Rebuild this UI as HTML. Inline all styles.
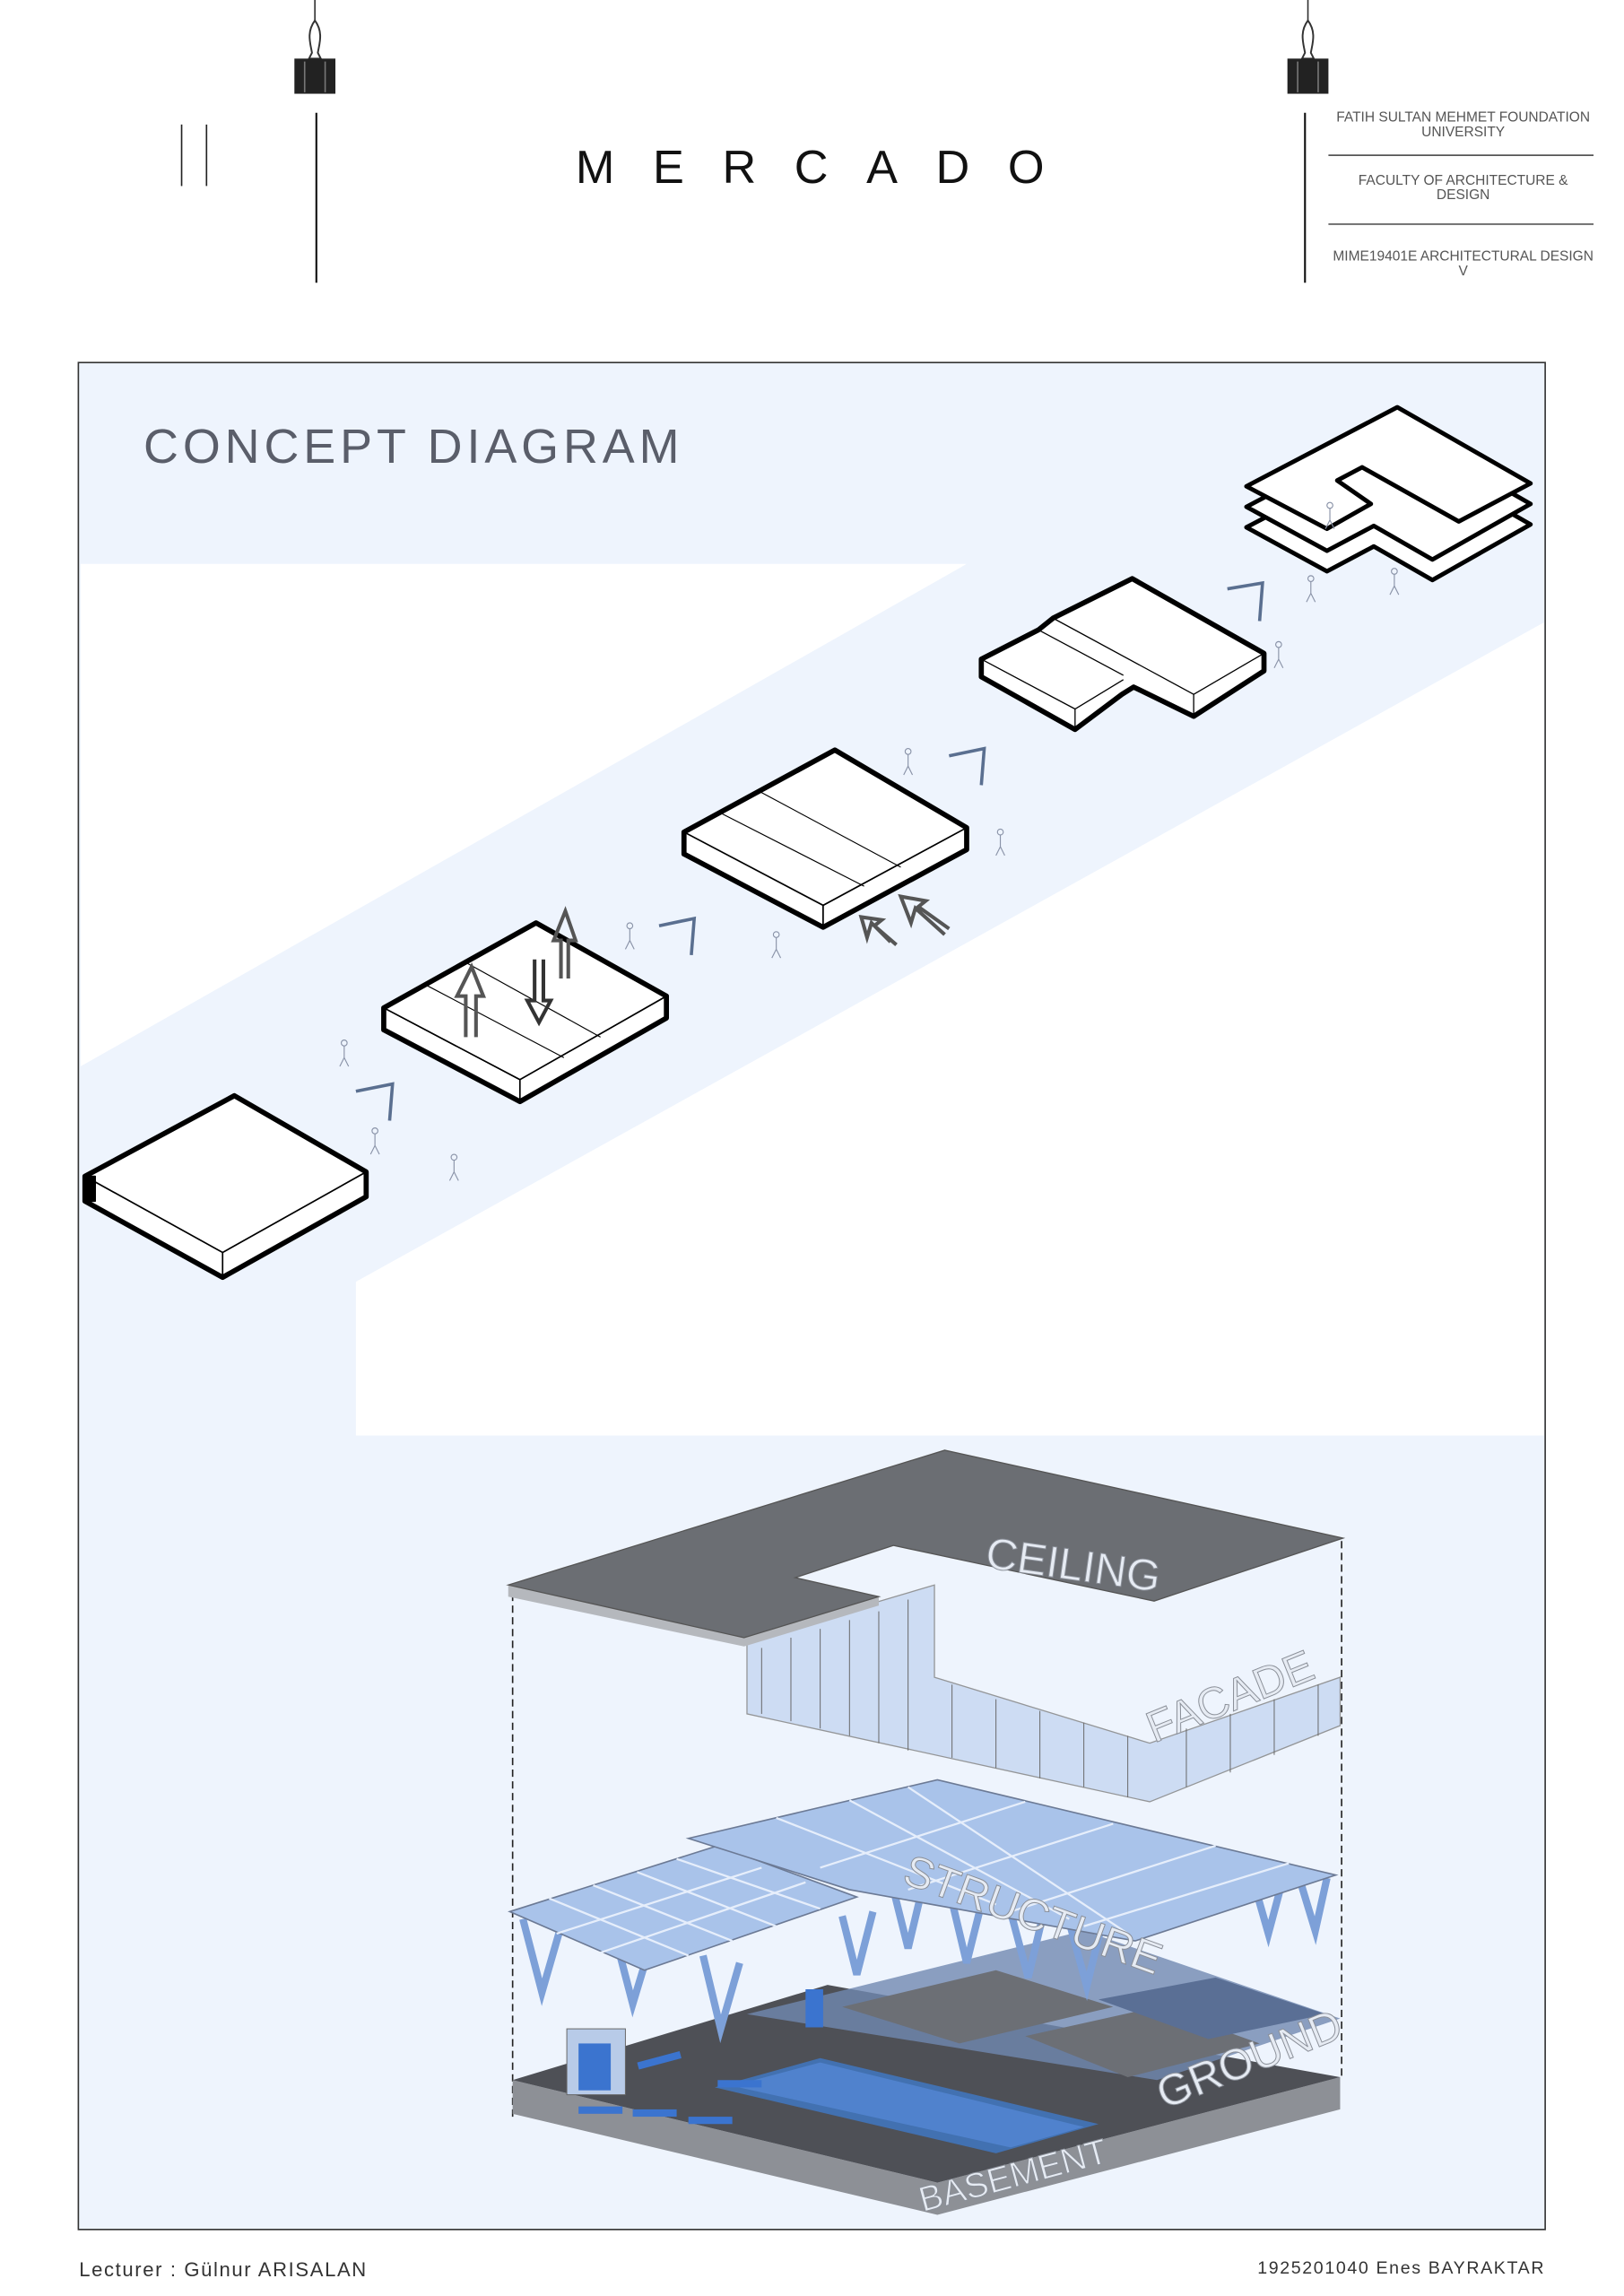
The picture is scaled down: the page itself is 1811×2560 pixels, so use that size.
<!DOCTYPE html>
<html><head><meta charset="utf-8"><style>
html,body{margin:0;padding:0;background:#fff;}
svg{display:block;}
text{font-family:"Liberation Sans",sans-serif;}
</style></head><body>
<svg width="1811" height="2560" viewBox="0 0 1108.8 1567.4" xmlns="http://www.w3.org/2000/svg">
<g>
<line x1="215" y1="0" x2="215" y2="14" stroke="#333" stroke-width="1"/>
<path d="M215,14 C209,22 212,30 213,36 L211,40 L219,40 L217,36 C218,30 221,22 215,14Z" fill="none" stroke="#333" stroke-width="1.2"/>
<rect x="201" y="40" width="28" height="24" fill="#222"/>
<line x1="208" y1="42" x2="208" y2="63" stroke="#777"/><line x1="222" y1="42" x2="222" y2="63" stroke="#777"/>
<line x1="893" y1="0" x2="893" y2="14" stroke="#333" stroke-width="1"/>
<path d="M893,14 C887,22 890,30 891,36 L889,40 L897,40 L895,36 C896,30 899,22 893,14Z" fill="none" stroke="#333" stroke-width="1.2"/>
<rect x="879" y="40" width="28" height="24" fill="#222"/>
<line x1="886" y1="42" x2="886" y2="63" stroke="#777"/><line x1="900" y1="42" x2="900" y2="63" stroke="#777"/>
</g>
<line x1="124" y1="85" x2="124" y2="127" stroke="#222" stroke-width="1"/>
<line x1="141" y1="85" x2="141" y2="127" stroke="#222" stroke-width="1"/>
<line x1="216" y1="77" x2="216" y2="193" stroke="#111" stroke-width="1.3"/>
<line x1="891" y1="77" x2="891" y2="193" stroke="#111" stroke-width="1.3"/>
<text x="393" y="125" font-size="32" fill="#111" textLength="320" lengthAdjust="spacing">MERCADO</text>
<g font-size="9.5" fill="#555" text-anchor="middle">
<text x="999" y="83">FATIH SULTAN MEHMET FOUNDATION</text>
<text x="999" y="93">UNIVERSITY</text>
<text x="999" y="126">FACULTY OF ARCHITECTURE &amp;</text>
<text x="999" y="136">DESIGN</text>
<text x="999" y="178">MIME19401E ARCHITECTURAL DESIGN</text>
<text x="999" y="188">V</text>
</g>
<line x1="907" y1="106" x2="1088" y2="106" stroke="#555" stroke-width="1"/>
<line x1="907" y1="153" x2="1088" y2="153" stroke="#555" stroke-width="1"/>
<rect x="53.5" y="247.5" width="1001.5" height="1274.5" fill="#eef4fd"/>
<polygon points="55,385 660,385 55,728" fill="#fff"/>
<polygon points="243,875 1054,425 1054,980 243,980" fill="#fff"/>
<rect x="53.5" y="247.5" width="1001.5" height="1274.5" fill="none" stroke="#333" stroke-width="1"/>
<text x="98" y="316" font-size="33" fill="#5a5e6a" letter-spacing="3">CONCEPT  DIAGRAM</text>
<g fill="none" stroke="#5a6f90" stroke-width="2.2">
<path d="M243,745 L268,740 L266,765"/>
<path d="M450,632 L474,627 L472,652"/>
<path d="M648,516 L672,511 L670,536"/>
<path d="M838,402 L862,398 L860,424"/>
</g>
<g stroke="#000" stroke-linejoin="round">
<polygon points="58,803 152,855 152,872 58,820" fill="#fff" stroke-width="1"/>
<polygon points="152,855 250,800 250,817 152,872" fill="#fff" stroke-width="1"/>
<polygon points="58,803 160,748 250,800 152,855" fill="#fff" stroke-width="1"/>
<polygon points="58,803 160,748 250,800 250,817 152,872 58,820" fill="none" stroke-width="3.5"/>
<rect x="58" y="803" width="7" height="17" fill="#000"/>
<polygon points="262,688 355,737 355,752 262,703" fill="#fff" stroke-width="1"/>
<polygon points="355,737 455,680 455,695 355,752" fill="#fff" stroke-width="1"/>
<polygon points="262,688 366,630 455,680 355,737" fill="#fff" stroke-width="1"/>
<line x1="290" y1="672" x2="385" y2="722" stroke-width="0.7"/>
<line x1="318" y1="657" x2="410" y2="708" stroke-width="0.7"/>
<polygon points="262,688 366,630 455,680 455,695 355,752 262,703" fill="none" stroke-width="3.5"/>
<polygon points="467,568 562,618 562,633 467,583" fill="#fff" stroke-width="1"/>
<polygon points="562,618 660,565 660,580 562,633" fill="#fff" stroke-width="1"/>
<polygon points="467,568 570,512 660,565 562,618" fill="#fff" stroke-width="1"/>
<line x1="492" y1="555" x2="590" y2="605" stroke-width="0.7"/>
<line x1="518" y1="540" x2="615" y2="592" stroke-width="0.7"/>
<polygon points="467,568 570,512 660,565 660,580 562,633 467,583" fill="none" stroke-width="3.5"/>
<g transform="translate(7,6)">
<polygon points="663,444 702,424 712,416 766,389 856,440 856,452 808,483 767,463 759,468 727,492 663,456" fill="#fff" stroke-width="3.5"/>
<line x1="663" y1="444" x2="727" y2="478" stroke-width="0.8"/>
<line x1="727" y1="478" x2="760" y2="458" stroke-width="0.8"/>
<line x1="702" y1="424" x2="760" y2="455" stroke-width="0.8"/>
<line x1="712" y1="416" x2="808" y2="468" stroke-width="0.8"/>
<line x1="808" y1="468" x2="856" y2="440" stroke-width="0.8"/>
<line x1="727" y1="478" x2="727" y2="492" stroke-width="0.8"/>
<line x1="808" y1="468" x2="808" y2="483" stroke-width="0.8"/>
</g>
<g transform="translate(8,4)">
<polygon points="843,356 946,302 1037,354 970,392 930,369 898,386" fill="#fff" stroke-width="3"/>
<polygon points="843,342 946,288 1037,340 970,378 930,355 898,372" fill="#fff" stroke-width="3"/>
<polygon points="843,328 946,274 1037,326 988,352 922,315 905,324 928,340 898,357" fill="#fff" stroke-width="3"/>
</g>
</g>
<g fill="none" stroke="#555" stroke-width="2.5">
<path d="M318,708 L318,680 L312,680 L322,660 L330,680 L325,680 L325,708"/>
<path d="M383,668 L383,642 L378,642 L386,622 L393,642 L388,642 L388,668"/>
<path d="M365,655 L365,683 L360,683 L368,698 L376,683 L371,683 L371,655" stroke="#333"/>
<path d="M608,643 L595,630 L592,640 L588,626 L602,628 L597,632 L612,645"/>
<path d="M645,638 L625,620 L622,630 L615,612 L632,615 L627,619 L648,634"/>
</g>
<g stroke="#8a93a8" stroke-width="0.7" fill="none">
<circle cx="235" cy="712" r="2"/><path d="M235,714 v8 m-3,6 l3,-6 l3,6"/>
<circle cx="256" cy="772" r="2"/><path d="M256,774 v8 m-3,6 l3,-6 l3,6"/>
<circle cx="310" cy="790" r="2"/><path d="M310,792 v8 m-3,6 l3,-6 l3,6"/>
<circle cx="430" cy="632" r="2"/><path d="M430,634 v8 m-3,6 l3,-6 l3,6"/>
<circle cx="530" cy="638" r="2"/><path d="M530,640 v8 m-3,6 l3,-6 l3,6"/>
<circle cx="620" cy="513" r="2"/><path d="M620,515 v8 m-3,6 l3,-6 l3,6"/>
<circle cx="683" cy="568" r="2"/><path d="M683,570 v8 m-3,6 l3,-6 l3,6"/>
<circle cx="873" cy="440" r="2"/><path d="M873,442 v8 m-3,6 l3,-6 l3,6"/>
<circle cx="895" cy="395" r="2"/><path d="M895,397 v8 m-3,6 l3,-6 l3,6"/>
<circle cx="908" cy="345" r="2"/><path d="M908,347 v8 m-3,6 l3,-6 l3,6"/>
<circle cx="952" cy="390" r="2"/><path d="M952,392 v8 m-3,6 l3,-6 l3,6"/>
</g>
<g>
<line x1="350" y1="1088" x2="350" y2="1445" stroke="#222" stroke-width="1" stroke-dasharray="5,3"/>
<line x1="916" y1="1052" x2="916" y2="1420" stroke="#222" stroke-width="1" stroke-dasharray="5,3"/>
<polygon points="350,1420 350,1443 640,1512 915,1440 915,1418 640,1490" fill="#8d9096"/>
<polygon points="350,1420 565,1355 915,1418 640,1490" fill="#4e5056"/>
<polygon points="488,1425 560,1405 750,1450 680,1470" fill="#3d7fd8" opacity="0.7"/>
<polygon points="500,1424 560,1408 740,1452 690,1466" fill="#5a8ee0" opacity="0.6"/>
<rect x="387" y="1385" width="40" height="45" fill="#b8cbe8" stroke="#666" stroke-width="0.6"/>
<rect x="395" y="1395" width="22" height="32" fill="#3b74cf"/>
<g fill="#3b74cf"><rect x="435" y="1408" width="30" height="5" transform="rotate(-15 435 1408)"/><rect x="395" y="1438" width="30" height="5"/><rect x="432" y="1440" width="30" height="5"/><rect x="470" y="1445" width="30" height="5"/><rect x="490" y="1420" width="30" height="5"/></g>
<polygon points="510,1375 740,1318 915,1378 790,1420" fill="#7088b0" opacity="0.8"/>
<polygon points="575,1370 680,1345 760,1370 655,1395" fill="#6c6f75"/>
<polygon points="700,1390 790,1370 860,1395 770,1418" fill="#6c6f75"/>
<polygon points="750,1365 830,1350 905,1375 825,1392" fill="#5a6f95"/>
<rect x="550" y="1358" width="12" height="26" fill="#3b74cf"/>
<g stroke="#7da0d8" stroke-width="5" fill="none">
<path d="M357,1310 L370,1360 L383,1315"/><path d="M420,1322 L432,1368 L445,1325"/>
<path d="M480,1335 L492,1385 L505,1340"/><path d="M575,1308 L585,1348 L596,1305"/>
<path d="M610,1290 L620,1330 L630,1288"/><path d="M650,1298 L660,1340 L670,1300"/>
<path d="M690,1305 L702,1350 L712,1308"/><path d="M730,1312 L742,1356 L752,1315"/>
<path d="M858,1292 L866,1320 L874,1290"/><path d="M888,1285 L898,1318 L906,1282"/>
</g>
<polygon points="348,1305 490,1260 585,1295 440,1345" fill="#a9c3ea" stroke="#6c7a95" stroke-width="1"/>
<polygon points="470,1255 640,1215 912,1280 775,1325 580,1290" fill="#a9c3ea" stroke="#6c7a95" stroke-width="1"/>
<g stroke="#e6eefb" stroke-width="1.4">
<line x1="375" y1="1296" x2="470" y2="1335"/><line x1="405" y1="1287" x2="500" y2="1325"/><line x1="435" y1="1278" x2="530" y2="1315"/><line x1="462" y1="1269" x2="560" y2="1303"/>
<line x1="530" y1="1241" x2="680" y2="1300"/><line x1="580" y1="1229" x2="730" y2="1310"/><line x1="620" y1="1220" x2="770" y2="1320"/>
<line x1="380" y1="1320" x2="520" y2="1275"/><line x1="410" y1="1333" x2="550" y2="1285"/>
<line x1="560" y1="1275" x2="700" y2="1230"/><line x1="620" y1="1290" x2="760" y2="1245"/><line x1="690" y1="1305" x2="830" y2="1260"/><line x1="740" y1="1315" x2="880" y2="1272"/>
</g>
<polygon points="510,1120 638,1082 638,1145 785,1190 915,1145 915,1178 785,1230 510,1170" fill="#c3d5f0" opacity="0.75" stroke="#777" stroke-width="0.8"/>
<g stroke="#666" stroke-width="0.6">
<line x1="520" y1="1125" x2="520" y2="1170"/><line x1="540" y1="1118" x2="540" y2="1175"/><line x1="560" y1="1112" x2="560" y2="1180"/><line x1="580" y1="1106" x2="580" y2="1185"/><line x1="600" y1="1100" x2="600" y2="1190"/><line x1="620" y1="1092" x2="620" y2="1195"/>
<line x1="650" y1="1150" x2="650" y2="1200"/><line x1="680" y1="1160" x2="680" y2="1207"/><line x1="710" y1="1168" x2="710" y2="1214"/><line x1="740" y1="1176" x2="740" y2="1220"/><line x1="770" y1="1185" x2="770" y2="1227"/>
<line x1="810" y1="1180" x2="810" y2="1220"/><line x1="840" y1="1170" x2="840" y2="1210"/><line x1="870" y1="1160" x2="870" y2="1198"/><line x1="900" y1="1150" x2="900" y2="1185"/>
</g>
<polygon points="347,1082 347,1090 508,1124 600,1096 600,1090 508,1118" fill="#b5b8bd"/>
<polygon points="347,1082 645,990 917,1050 788,1093 610,1055 543,1077 600,1090 508,1118" fill="#6b6e73" stroke="#555" stroke-width="0.8"/>
<g fill="#e6ebf3" stroke="#8a8f98" stroke-width="0.6" font-size="30">
<text x="672" y="1070" transform="rotate(8 672 1070)">CEILING</text>
<text x="788" y="1190" transform="rotate(-22 788 1190)">FACADE</text>
<text x="615" y="1285" transform="rotate(20 615 1285)">STRUCTURE</text>
<text x="795" y="1440" transform="rotate(-22 795 1440)">GROUND</text>
<text x="630" y="1510" transform="rotate(-15 630 1510)" font-size="24">BASEMENT</text>
</g>
</g>
<text x="54" y="1554" font-size="13.5" fill="#333" letter-spacing="1">Lecturer :   Gülnur ARISALAN</text>
<text x="1055" y="1552" font-size="12" fill="#333" text-anchor="end" letter-spacing="1">1925201040 Enes BAYRAKTAR</text>
</svg>
</body></html>
